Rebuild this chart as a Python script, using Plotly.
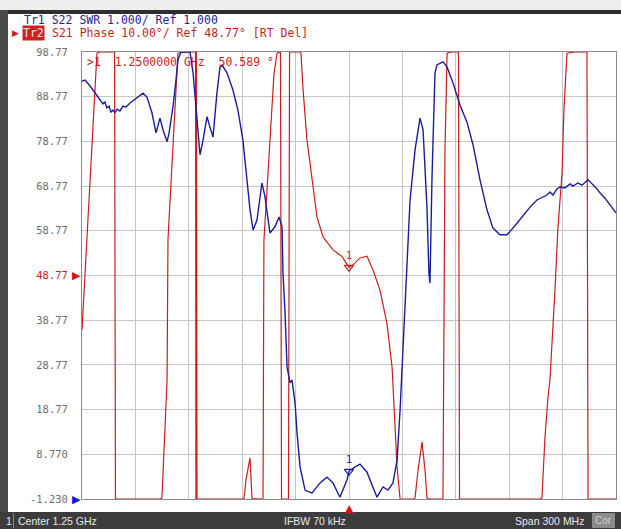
import numpy as np
import plotly.graph_objects as go

# ---------------- data ----------------
# S22 SWR trace (Tr1), frequency in MHz
blue_f = [1100.0, 1101.7, 1104.5, 1106.2, 1110.1, 1111.8, 1112.9, 1114.0, 1115.2, 1116.3,
          1117.4, 1118.5, 1119.7, 1121.3, 1123.0, 1124.7, 1127.0, 1129.2, 1131.5, 1133.1,
          1134.3, 1136.5, 1139.3, 1141.6, 1143.8, 1145.5, 1147.8, 1148.9, 1151.1, 1152.8,
          1153.9, 1155.6, 1158.4, 1160.7, 1162.4, 1164.6, 1166.3, 1168.0, 1170.2, 1171.9,
          1173.6, 1175.8, 1177.5, 1178.7, 1181.5, 1184.8, 1187.6, 1190.4, 1192.7, 1194.4,
          1196.1, 1198.3, 1201.1, 1202.8, 1205.6, 1208.4, 1210.7, 1212.4, 1212.9, 1214.0,
          1215.2, 1216.9, 1218.0, 1219.7, 1220.8, 1222.5, 1225.3, 1229.2, 1233.7, 1237.6,
          1241.0, 1244.9, 1248.9, 1250.0, 1253.4, 1256.2, 1260.1, 1265.7, 1269.1, 1271.9,
          1274.7, 1277.0, 1278.7, 1280.3, 1281.5, 1282.6, 1284.3, 1287.1, 1289.9, 1291.6,
          1293.8, 1294.9, 1295.5, 1296.6, 1298.3, 1299.4, 1302.8, 1305.1, 1308.4, 1312.4,
          1316.3, 1319.7, 1323.6, 1327.5, 1330.9, 1334.8, 1338.8, 1344.4, 1351.7, 1355.6,
          1359.0, 1361.2, 1362.9, 1364.6, 1366.9, 1368.6, 1371.3, 1374.2, 1375.8, 1378.6,
          1380.9, 1384.3, 1386.5, 1388.8, 1391.0, 1393.8, 1396.6, 1398.9, 1400.0]
blue_swr = [10.35, 10.37, 10.24, 10.15, 9.93, 9.84, 9.88, 9.75, 9.79, 9.66,
            9.70, 9.64, 9.72, 9.68, 9.79, 9.77, 9.86, 9.93, 9.99, 10.04,
            10.08, 9.99, 9.64, 9.19, 9.52, 9.26, 8.99, 9.19, 9.77, 10.37,
            10.82, 11.16, 11.27, 11.16, 10.53, 9.41, 8.70, 9.03, 9.55, 9.32,
            9.10, 10.08, 10.66, 10.71, 10.53, 10.15, 9.70, 9.03, 8.14, 7.47,
            7.02, 7.24, 8.07, 7.76, 6.95, 7.09, 7.31, 7.09, 6.06, 5.23,
            3.95, 3.60, 3.66, 3.15, 2.48, 1.72, 1.20, 1.13, 1.36, 1.49,
            1.36, 1.04, 1.43, 1.62, 1.72, 1.78, 1.60, 1.04, 1.27, 1.20,
            1.36, 1.87, 2.99, 4.33, 5.68, 6.57, 7.69, 8.81, 9.52, 9.26,
            7.53, 6.06, 5.83, 8.14, 10.53, 10.71, 10.78, 10.66, 10.31, 9.81,
            9.43, 8.92, 8.14, 7.47, 7.06, 6.91, 6.91, 7.17, 7.53, 7.69,
            7.76, 7.80, 7.87, 7.80, 7.94, 7.98, 7.96, 8.05, 8.00, 8.07,
            8.02, 8.14, 8.05, 7.96, 7.85, 7.73, 7.58, 7.47, 7.40]

# S21 phase trace (Tr2), degrees (wrapped, +-180)
red_f = [1100.0, 1102.8, 1105.6, 1108.4, 1110.1, 1114.6, 1118.3, 1118.8, 1127.0, 1138.2,
         1143.8, 1144.9, 1146.6, 1147.8, 1148.3, 1151.1, 1153.9, 1157.9, 1163.8, 1164.0,
         1164.3, 1164.6, 1171.9, 1183.1, 1191.0, 1192.1, 1194.4, 1195.5, 1196.6, 1198.9,
         1201.4, 1201.7, 1202.0, 1202.2, 1204.5, 1206.7, 1207.9, 1209.6, 1210.7, 1211.5,
         1212.1, 1216.0, 1216.6, 1219.7, 1222.5, 1223.0, 1224.2, 1226.4, 1229.2, 1232.0,
         1235.4, 1241.0, 1246.1, 1250.0, 1252.2, 1256.2, 1260.1, 1263.5, 1267.4, 1271.3,
         1274.2, 1275.8, 1277.0, 1278.7, 1281.5, 1286.0, 1287.1, 1288.8, 1291.0, 1292.7,
         1293.8, 1295.5, 1302.2, 1302.8, 1303.9, 1305.1, 1307.9, 1311.5, 1312.1, 1323.6,
         1346.1, 1357.3, 1358.4, 1360.1, 1361.8, 1362.9, 1365.7, 1367.4, 1369.7, 1370.8,
         1372.5, 1377.0, 1383.7, 1384.3, 1391.0, 1400.0]
red_phase = [36.6, 56.7, 79.1, 98.5, 120, 150, 178, -178, -140, -70,
             -20, -1.0, 14.2, 25.4, 56.7, 79.1, 98.5, 130, 179, -179,
             179, -179, -150, -60, -10, 3.0, 8.0, -1.2, -10, -20,
             -5, -1.0, 20.9, 56.7, 71.7, 85.8, 94.1, 98.5, 130, 179,
             -179, -100, 150, 130, 105, 98.5, 90.3, 79.1, 70.1, 61.9,
             57.4, 54.5, 53.0, 50.589, 51.1, 52.7, 53.1, 50.0, 45.5, 38.1,
             28.3, 17.1, 5.9, -2.0, -30, -10, -1.0, 5.3, 11.5, 5.3,
             -1.0, -20, -5, -1.0, 76.4, 98.5, 130, 179, -179, -150,
             -90, -10, -1.0, 12.6, 21.6, 25.4, 45.5, 59.6, 71.7, 86.5,
             98.5, 130, 178, -178, -150, -120]

y_ticks = [98.77, 88.77, 78.77, 68.77, 58.77, 48.77, 38.77, 28.77, 18.77, 8.77, -1.23]
y_tick_text = ["98.77", "88.77", "78.77", "68.77", "58.77", "48.77", "38.77",
               "28.77", "18.77", "8.770", "-1.230"]

marker_f = 1250.0
marker_phase = 50.589
marker_swr = 1.62

PH_MIN, PH_MAX = -1.23, 98.77
SWR_MIN, SWR_MAX = 1.0, 11.0

RED = "#cc1e1e"
BLUE = "#1c1ca0"

# ---------------- figure ----------------
fig = go.Figure()

# display clamps out-of-range values to the graticule edge, like the analyzer
red_disp = np.clip(np.array(red_phase, dtype=float), PH_MIN, PH_MAX)
blue_disp = np.clip(np.array(blue_swr, dtype=float), SWR_MIN, SWR_MAX)

fig.add_trace(go.Scatter(x=red_f, y=red_disp, mode="lines",
                         line=dict(color=RED, width=1.2), yaxis="y",
                         hoverinfo="skip", showlegend=False))
fig.add_trace(go.Scatter(x=blue_f, y=blue_disp, mode="lines",
                         line=dict(color=BLUE, width=1.4), yaxis="y2",
                         hoverinfo="skip", showlegend=False))

# markers
fig.add_trace(go.Scatter(x=[marker_f], y=[marker_phase], mode="markers+text",
                         text=["1"], textposition="top center",
                         textfont=dict(color=RED, size=10, family="DejaVu Sans Mono"),
                         marker=dict(symbol="triangle-down-open", size=8,
                                     color=RED, line=dict(width=1.2, color=RED)),
                         yaxis="y", showlegend=False, hoverinfo="skip"))
fig.add_trace(go.Scatter(x=[marker_f], y=[marker_swr], mode="markers+text",
                         text=["1"], textposition="top center",
                         textfont=dict(color=BLUE, size=10, family="DejaVu Sans Mono"),
                         marker=dict(symbol="triangle-down-open", size=8,
                                     color=BLUE, line=dict(width=1.2, color=BLUE)),
                         yaxis="y2", showlegend=False, hoverinfo="skip"))

L, R, T, B = 82, 5, 52, 30
W, H = 621, 529
PW, PH = W - L - R, H - T - B


def px(x):
    return (x - L) / PW


def py(y):
    return (H - B - y) / PH


MONO = "DejaVu Sans Mono"
SANS = "Liberation Sans"

ann = []
# header
ann.append(dict(text="Tr1 S22 SWR 1.000/ Ref 1.000", x=px(22), y=py(20),
                xref="paper", yref="paper", xanchor="left", yanchor="middle",
                showarrow=False, font=dict(family=MONO, size=11.5, color="#26268e")))
ann.append(dict(text="Tr2", x=px(22), y=py(33), xref="paper", yref="paper",
                xanchor="left", yanchor="middle", showarrow=False, bgcolor="#d42020",
                borderpad=0, font=dict(family=MONO, size=11.5, color="#ffe8e8")))
ann.append(dict(text="S21 Phase 10.00°/ Ref 48.77° [RT Del]", x=px(50), y=py(33),
                xref="paper", yref="paper", xanchor="left", yanchor="middle",
                showarrow=False, font=dict(family=MONO, size=11.5, color=RED)))
ann.append(dict(text="▶", x=px(10), y=py(33), xref="paper", yref="paper",
                xanchor="left", yanchor="middle", showarrow=False,
                font=dict(family="DejaVu Sans", size=9, color=RED)))
# marker readout
ann.append(dict(text=">1  1.2500000 GHz  50.589 °", x=px(85), y=py(62),
                xref="paper", yref="paper", xanchor="left", yanchor="middle",
                showarrow=False, font=dict(family=MONO, size=11.5, color=RED)))
# reference position arrows
ann.append(dict(text="▶", x=0, y=48.77, xref="paper", yref="y", xanchor="right",
                yanchor="middle", showarrow=False, xshift=1,
                font=dict(family="DejaVu Sans", size=11, color="#e01010")))
ann.append(dict(text="▶", x=0, y=-1.23, xref="paper", yref="y", xanchor="right",
                yanchor="middle", showarrow=False, xshift=1,
                font=dict(family="DejaVu Sans", size=11, color="#1010e0")))
# stimulus marker
ann.append(dict(text="▲", x=marker_f, y=-1.23, xref="x", yref="y", xanchor="center",
                yanchor="top", showarrow=False, yshift=-1,
                font=dict(family="DejaVu Sans", size=11, color="#e01010")))
# status bar text
ann.append(dict(text="1", x=px(4), y=py(520.5), xref="paper", yref="paper",
                xanchor="left", yanchor="middle", showarrow=False,
                font=dict(family=SANS, size=10.5, color="#e8e8e8")))
ann.append(dict(text="Center 1.25 GHz", x=px(16), y=py(520.5), xref="paper", yref="paper",
                xanchor="left", yanchor="middle", showarrow=False,
                font=dict(family=SANS, size=10.5, color="#e8e8e8")))
ann.append(dict(text="IFBW 70 kHz", x=px(315), y=py(520.5), xref="paper", yref="paper",
                xanchor="center", yanchor="middle", showarrow=False,
                font=dict(family=SANS, size=10.5, color="#e8e8e8")))
ann.append(dict(text="Span 300 MHz", x=px(586), y=py(520.5), xref="paper", yref="paper",
                xanchor="right", yanchor="middle", showarrow=False,
                font=dict(family=SANS, size=10.5, color="#e8e8e8")))
ann.append(dict(text="Cor", x=px(603), y=py(520.5), xref="paper", yref="paper",
                xanchor="center", yanchor="middle", showarrow=False,
                font=dict(family=SANS, size=10, color="#d0d0d0")))

shapes = []
# top light strip and dark frame line
shapes.append(dict(type="rect", xref="paper", yref="paper", x0=px(0), x1=px(W),
                   y0=py(0), y1=py(10), fillcolor="#efefef", line=dict(width=0), layer="below"))
shapes.append(dict(type="rect", xref="paper", yref="paper", x0=px(0), x1=px(W),
                   y0=py(10), y1=py(14), fillcolor="#2e2e2e", line=dict(width=0), layer="below"))
# left frame bar
shapes.append(dict(type="rect", xref="paper", yref="paper", x0=px(0), x1=px(8),
                   y0=py(10), y1=py(512), fillcolor="#4a4a4a", line=dict(width=0), layer="below"))
# status bar
shapes.append(dict(type="rect", xref="paper", yref="paper", x0=px(0), x1=px(W),
                   y0=py(512), y1=py(H), fillcolor="#3c3c3c", line=dict(width=0), layer="below"))
shapes.append(dict(type="rect", xref="paper", yref="paper", x0=px(13), x1=px(14),
                   y0=py(513), y1=py(528), fillcolor="#888888", line=dict(width=0), layer="below"))
shapes.append(dict(type="rect", xref="paper", yref="paper", x0=px(592), x1=px(615),
                   y0=py(513), y1=py(528), fillcolor="#8c8c8c", line=dict(width=0), layer="below"))

fig.update_layout(
    width=W, height=H,
    margin=dict(l=L, r=R, t=T, b=B, pad=0),
    paper_bgcolor="white", plot_bgcolor="white",
    showlegend=False,
    xaxis=dict(range=[1100, 1400], dtick=30, tick0=1100, showgrid=True,
               gridcolor="#c6c6c6", gridwidth=1, showticklabels=False, ticks="",
               zeroline=False, showline=True, linecolor="#8a8a8a", linewidth=1, mirror=True),
    yaxis=dict(range=[PH_MIN, PH_MAX], tickmode="array", tickvals=y_ticks,
               ticktext=[("<span style='color:#d02020'>%s</span>" % t) if t == "48.77" else t
                         for t in y_tick_text],
               showgrid=True, gridcolor="#c6c6c6", gridwidth=1, zeroline=False,
               showline=True, linecolor="#8a8a8a", linewidth=1, mirror=True,
               ticks="", ticklabelstandoff=11,
               tickfont=dict(family=MONO, size=10.5, color="#6e6e6e")),
    yaxis2=dict(range=[SWR_MIN, SWR_MAX], overlaying="y", side="right",
                visible=False, showgrid=False, zeroline=False),
    annotations=ann,
    shapes=shapes,
)

fig.write_html("out.html",
               config={"displayModeBar": False},
               post_script="document.body.style.margin='0';document.body.style.overflow='hidden';")
